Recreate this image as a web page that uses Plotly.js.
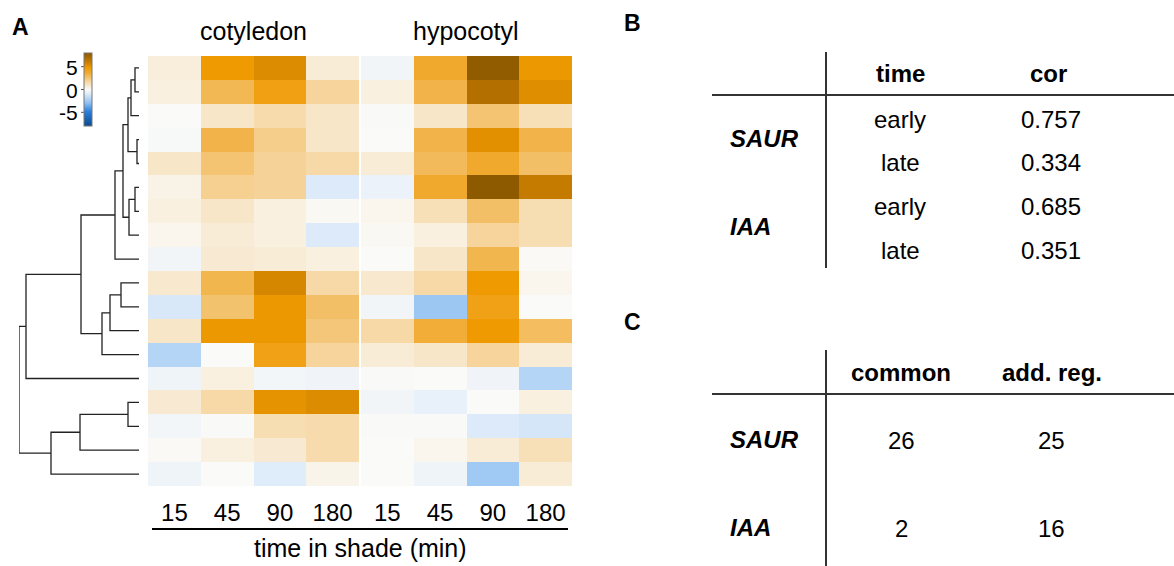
<!DOCTYPE html>
<html>
<head>
<meta charset="utf-8">
<script src="https://cdn.plot.ly/plotly-3.0.1.min.js"></script>
<style>html,body{margin:0;padding:0;background:#fff;}#chart{width:1174px;height:566px;}</style>
</head>
<body>
<div id="chart"></div>
<script>
// ---------------- DATA ----------------
const timePoints = ['15', '45', '90', '180'];
const tissues = ['cotyledon', 'hypocotyl'];

// log2 fold-change per gene (rows, dendrogram order) x time point
const cotyledon = [
  [0.6, 4.8, 5.4, 0.7],
  [0.5, 3.0, 4.4, 1.8],
  [0.0, 1.0, 1.5, 1.0],
  [-0.1, 3.2, 2.1, 1.0],
  [1.0, 2.5, 1.9, 1.6],
  [0.35, 2.0, 1.9, -1.0],
  [0.5, 1.0, 0.5, 0.1],
  [0.2, 0.7, 0.5, -1.0],
  [-0.3, 0.8, 0.7, 0.5],
  [0.9, 3.1, 5.6, 1.6],
  [-1.1, 2.6, 4.9, 2.7],
  [1.0, 4.9, 4.9, 2.4],
  [-2.0, 0.0, 4.3, 1.8],
  [-0.4, 0.5, -0.25, -0.35],
  [0.8, 1.6, 5.1, 5.4],
  [-0.25, -0.05, 1.4, 1.5],
  [0.05, 0.5, 0.8, 1.5],
  [-0.4, 0.0, -0.9, 0.3]
];
const hypocotyl = [
  [-0.3, 3.8, 7.8, 4.9],
  [0.5, 3.2, 6.7, 5.3],
  [-0.05, 1.0, 2.5, 1.3],
  [0.0, 3.2, 5.2, 3.2],
  [0.7, 2.9, 3.8, 2.7],
  [-0.5, 3.8, 7.9, 6.1],
  [0.2, 1.3, 2.7, 1.4],
  [0.1, 0.5, 1.8, 1.4],
  [0.0, 1.0, 3.1, 0.05],
  [0.9, 1.6, 4.8, 0.2],
  [-0.3, -2.6, 4.3, 0.0],
  [1.6, 3.6, 4.8, 2.8],
  [0.7, 1.0, 1.8, 0.7],
  [-0.05, 0.0, -0.35, -2.0],
  [-0.3, -0.6, 0.0, 0.5],
  [-0.05, -0.05, -1.0, -1.2],
  [0.0, 0.2, 0.7, 1.3],
  [0.0, -0.4, -2.5, 0.7]
];

// hierarchical clustering: [childA, childB, height]; leaves 0..17, clusters 18+
const linkage = [
  [0, 1, 4], [18, 2, 8], [3, 4, 2], [19, 20, 11],
  [5, 6, 4], [22, 7, 10], [21, 23, 16], [24, 8, 24],
  [9, 10, 18], [26, 11, 29], [27, 12, 37], [25, 28, 58],
  [29, 13, 113], [14, 15, 11], [31, 16, 59], [32, 17, 88],
  [30, 33, 120]
];

const colorTicks = [5, 0, -5];

// table B
const tableBHeader = ['time', 'cor'];
const tableBGenes = ['SAUR', 'IAA'];
const tableBTime = ['early', 'late', 'early', 'late'];
const tableBCor = ['0.757', '0.334', '0.685', '0.351'];
// table C
const tableCHeader = ['common', 'add. reg.'];
const tableCGenes = ['SAUR', 'IAA'];
const tableCCommon = [26, 2];
const tableCAddReg = [25, 16];

// ---------------- LAYOUT HELPERS ----------------
const W = 1174, H = 566;
const px = x => x / W;
const py = y => 1 - y / H;
const FONT = 'Liberation Sans, Arial, Helvetica, sans-serif';
const zmin = -8, zmax = 8;

const colorscale = [
  [0.0, '#0b4a8c'],
  [0.2, '#2a80dc'],
  [0.3125, '#8cbef2'],
  [0.375, '#b4d5f5'],
  [0.4375, '#dceaf9'],
  [0.5, '#fafaf8'],
  [0.5625, '#f8e6c8'],
  [0.625, '#f5d091'],
  [0.6875, '#f2b854'],
  [0.75, '#f0a523'],
  [0.8, '#ef9a00'],
  [0.875, '#c87d00'],
  [1.0, '#8b5800']
];

const nRows = cotyledon.length;
const rowIdx = cotyledon.map((_, i) => i);

const hmTop = 56, hmBot = 486;
const cbTop = 53, cbBot = 126;

// ---------------- TRACES ----------------
const traces = [];
traces.push({
  type: 'heatmap', z: cotyledon, x: timePoints, y: rowIdx,
  xaxis: 'x', yaxis: 'y', colorscale: colorscale, zmin: zmin, zmax: zmax,
  showscale: true, hoverinfo: 'skip',
  colorbar: {
    x: px(84), xanchor: 'left', y: py(cbTop), yanchor: 'top',
    len: cbBot - cbTop, lenmode: 'pixels', thickness: 8, thicknessmode: 'pixels',
    outlinewidth: 1, outlinecolor: '#777', xpad: 0, ypad: 0,
    showticklabels: false, ticks: ''
  }
});
traces.push({
  type: 'heatmap', z: hypocotyl, x: timePoints, y: rowIdx,
  xaxis: 'x2', yaxis: 'y', colorscale: colorscale, zmin: zmin, zmax: zmax,
  showscale: false, hoverinfo: 'skip'
});

// dendrogram segments from linkage
const pos = rowIdx.slice();
const hgt = rowIdx.map(() => 0);
const dx = [], dy = [];
linkage.forEach(([a, b, h]) => {
  dx.push(hgt[a], h, h, hgt[b], null);
  dy.push(pos[a], pos[a], pos[b], pos[b], null);
  pos.push((pos[a] + pos[b]) / 2);
  hgt.push(h);
});
traces.push({
  type: 'scatter', mode: 'lines', x: dx, y: dy, xaxis: 'x3', yaxis: 'y',
  line: { color: '#222', width: 1.3 }, hoverinfo: 'skip', showlegend: false
});

// ---------------- ANNOTATIONS / SHAPES ----------------
const ann = [];
const shapes = [];
function txt(text, x, y, size, opts) {
  ann.push(Object.assign({
    text: text, x: px(x), y: py(y), xref: 'paper', yref: 'paper',
    showarrow: false, xanchor: 'center', yanchor: 'middle',
    font: { family: FONT, size: size, color: '#000' }
  }, opts || {}));
}
function line(x0, y0, x1, y1, w, c) {
  shapes.push({ type: 'line', xref: 'paper', yref: 'paper',
    x0: px(x0), y0: py(y0), x1: px(x1), y1: py(y1),
    line: { color: c || '#222', width: w } });
}

// panel letters
txt('<b>A</b>', 20, 27, 23);
txt('<b>B</b>', 632, 23, 23);
txt('<b>C</b>', 632, 322, 23);

// strip labels
txt(tissues[0], 253, 31, 25);
txt(tissues[1], 466, 31, 25);

// colorbar tick labels
const cbMid = (cbTop + cbBot) / 2;
const cbScale = (cbBot - cbTop) / (zmax - zmin);
colorTicks.forEach(v => {
  const yy = cbMid - v * cbScale;
  txt(String(v), 80, yy, 21, { xanchor: 'right', height: 20 });
  line(81, yy, 84, yy, 1, '#555');
});

// x axis underline + title
line(152, 529, 568, 529, 2, '#000');
txt('time in shade (min)', 360, 548, 25);

// table B
line(712, 95, 1174, 95, 2, '#333');
line(826, 52, 826, 268, 2, '#333');
txt('<b>' + tableBHeader[0] + '</b>', 900, 73, 24);
txt('<b>' + tableBHeader[1] + '</b>', 1048, 73, 24);
const bRowsY = [120, 162, 207, 250];
tableBTime.forEach((t, i) => txt(t, 900, bRowsY[i], 24));
tableBCor.forEach((t, i) => txt(t, 1051, bRowsY[i], 24));
txt('<b><i>' + tableBGenes[0] + '</i></b>', 728, 139, 24, { xanchor: 'left' });
txt('<b><i>' + tableBGenes[1] + '</i></b>', 728, 227, 24, { xanchor: 'left' });

// table C
line(712, 394, 1174, 394, 2, '#333');
line(826, 350, 826, 566, 2, '#333');
txt('<b>' + tableCHeader[0] + '</b>', 901, 372, 24);
txt('<b>' + tableCHeader[1] + '</b>', 1052, 372, 24);
const cRowsY = [439, 527];
tableCGenes.forEach((g, i) => txt('<b><i>' + g + '</i></b>', 728, cRowsY[i], 24, { xanchor: 'left' }));
tableCCommon.forEach((v, i) => txt(String(v), 901, cRowsY[i] + 1, 24));
tableCAddReg.forEach((v, i) => txt(String(v), 1051, cRowsY[i] + 1, 24));

// ---------------- LAYOUT ----------------
const yDomain = [py(hmBot), py(hmTop)];
const xAxisCommon = {
  type: 'category', showgrid: false, zeroline: false, showline: false,
  ticks: '', ticklabelstandoff: 10,
  tickfont: { family: FONT, size: 24, color: '#000' }, fixedrange: true
};
const layout = {
  width: W, height: H,
  margin: { l: 0, r: 0, t: 0, b: 0 },
  paper_bgcolor: '#fff', plot_bgcolor: 'rgba(0,0,0,0)',
  showlegend: false,
  font: { family: FONT, color: '#000' },
  xaxis: Object.assign({}, xAxisCommon, { domain: [px(148), px(359)], anchor: 'y' }),
  xaxis2: Object.assign({}, xAxisCommon, { domain: [px(361), px(572)], anchor: 'y' }),
  xaxis3: { domain: [px(19), px(139)], range: [120, 0], anchor: 'y', visible: false, fixedrange: true },
  yaxis: { domain: yDomain, range: [nRows - 0.5, -0.5], visible: false, fixedrange: true },
  annotations: ann,
  shapes: shapes
};

Plotly.newPlot('chart', traces, layout, { displayModeBar: false, staticPlot: true });
</script>
</body>
</html>
